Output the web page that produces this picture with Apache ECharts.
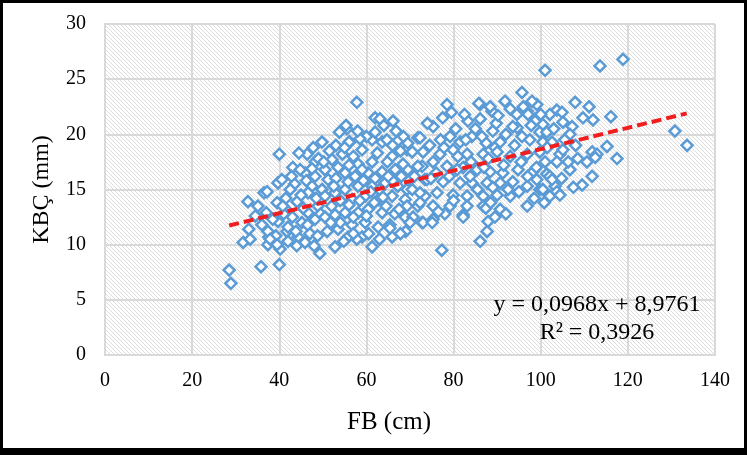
<!DOCTYPE html>
<html>
<head>
<meta charset="utf-8">
<script src="https://cdn.jsdelivr.net/npm/echarts@6/dist/echarts.min.js"></script>
<style>
  html, body { margin: 0; padding: 0; background: #fff; }
  #chart { width: 747px; height: 455px; }
</style>
</head>
<body>
<div id="chart"></div>
<script>
// Observations [FB (cm), KBÇ (mm)], grouped by FB range
const fbUnder50 = [
  [28.5,7.7],[28.9,6.5],[31.7,10.2],[33.0,11.4],[32.8,13.9],[35.1,13.5],[35.8,8.0],[36.5,14.7],
  [37.0,12.9],[37.6,10.7],[37.4,10.0],[40.0,18.2],[39.7,15.6],[40.6,15.9],[40.0,8.2],[40.2,9.6],
  [39.2,10.8],[41.8,11.2],[43.1,17.0],[37.2,14.8],[39.5,13.8],[42.0,13.0],[44.1,13.9],[45.9,16.5],
  [46.4,18.2],[48.2,17.5],[49.8,19.3],[47.5,15.3],[48.9,13.5],[46.6,12.9],[45.2,12.0],[42.0,11.6],
  [39.7,12.1],[37.4,11.2],[37.9,10.5],[33.3,10.5],[39.5,10.0],[42.0,10.3],[44.3,10.7],[45.9,10.2],
  [49.3,9.2],[48.2,12.3],[46.6,14.7],[48.2,16.2],[49.8,15.0],[43.5,15.5],[44.8,16.8],[41.5,14.2],
  [43.0,12.5],[45.5,13.3],[47.0,11.0],[44.0,9.9],[46.5,11.8],[48.5,14.2],[47.5,16.9],[42.5,15.0],
  [41.0,12.8],[38.5,12.3],[36.0,11.8],[34.5,12.6],[46.2,15.8],[48.8,10.8],[43.8,11.2],[45.0,14.5],
  [49.0,17.8],[47.8,18.8],[44.5,18.3],[42.8,16.2],[40.8,13.5],[49.5,12.8],[48.0,9.9]
];
const fb50to70 = [
  [52.1,17.7],[53.5,17.0],[56.2,19.3],[55.5,20.5],[59.0,18.6],[61.3,19.5],[63.6,19.3],[67.2,19.4],
  [65.9,18.0],[61.3,17.5],[58.1,17.3],[55.1,16.5],[51.2,15.9],[50.5,14.4],[52.8,9.8],[61.3,9.8],
  [59.0,10.7],[55.8,10.7],[53.5,11.4],[56.7,11.8],[59.7,12.0],[62.7,11.6],[65.9,10.7],[65.4,11.8],
  [68.9,12.5],[63.6,12.9],[60.4,13.2],[58.1,12.9],[55.1,12.9],[52.8,12.7],[50.5,12.5],[56.7,14.1],
  [59.7,14.4],[62.7,14.1],[65.9,14.4],[68.9,14.1],[67.2,15.3],[64.3,15.6],[61.3,15.3],[58.1,15.3],
  [55.1,15.0],[52.8,14.7],[50.5,16.8],[57.4,16.2],[60.4,16.5],[63.6,16.6],[66.6,16.8],[69.5,16.8],
  [57.8,22.9],[55.3,20.8],[62.0,21.5],[56.0,19.3],[66.1,21.2],[63.1,21.4],[64.7,19.5],[57.8,10.5],
  [65.4,11.5],[69.3,18.6],[68.4,17.3],[69.3,15.0],[69.3,13.5],[51.5,18.5],[53.0,19.0],[54.5,18.2],
  [57.0,18.0],[60.0,19.8],[62.5,18.3],[64.8,17.5],[67.8,18.5],[52.0,13.5],[54.0,14.0],[56.0,13.6],
  [58.5,14.0],[61.0,14.8],[63.0,15.0],[66.0,15.8],[68.0,16.2],[51.0,11.2],[54.0,12.0],[57.0,11.0],
  [60.5,11.0],[63.0,10.5],[66.5,12.8],[69.0,11.2],[53.0,16.0],[56.0,17.2],[59.0,16.8],[62.0,16.0],
  [65.0,16.2],[68.5,19.8],[55.0,18.8],[58.5,19.6],[62.0,20.2],[64.0,20.8],[66.8,20.3],[50.2,17.5],
  [52.5,15.3],[55.8,15.7],[59.3,15.8],[61.8,13.8],[64.5,13.5],[67.5,13.2],[51.8,12.0],[54.8,10.3],
  [60.0,12.6],[67.8,11.0],[69.5,19.2],[53.8,20.2],[58.0,20.3],[57.0,12.5],[63.8,14.3],[66.0,19.0]
];
const fb70to90 = [
  [71.8,19.7],[70.5,18.4],[72.8,17.1],[73.4,15.9],[73.4,14.4],[71.8,13.5],[70.5,15.0],[72.8,12.0],
  [78.5,22.7],[86.1,22.7],[88.8,22.1],[83.3,21.2],[86.1,21.4],[75.3,20.7],[72.3,19.7],[79.2,19.8],
  [81.5,19.3],[84.2,19.8],[89.0,20.3],[73.0,18.4],[76.9,18.2],[79.9,18.6],[83.1,18.2],[86.8,18.2],
  [71.8,17.1],[75.3,17.5],[78.5,17.1],[82.2,17.0],[85.4,16.8],[88.4,16.6],[70.0,15.9],[73.9,15.9],
  [77.6,15.7],[81.5,15.6],[84.2,15.6],[87.7,15.6],[72.3,14.7],[76.2,14.7],[79.9,14.5],[83.1,14.4],
  [86.8,14.4],[72.3,13.8],[75.3,13.5],[79.2,13.5],[82.2,12.7],[83.1,13.5],[86.8,13.5],[70.7,12.5],
  [73.0,12.0],[75.3,12.3],[87.7,11.2],[87.9,12.1],[70.0,12.0],[77.3,9.5],[86.1,10.3],[75.1,12.0],
  [82.2,12.5],[87.4,13.3],[85.8,22.8],[88.4,22.5],[74.5,19.0],[77.0,19.5],[80.5,20.5],[82.5,21.8],
  [85.0,20.5],[87.5,19.2],[89.5,18.8],[76.0,16.5],[79.0,16.2],[81.0,18.0],[84.0,17.5],[88.0,17.8],
  [74.0,21.0],[77.5,21.5],[80.0,14.0],[85.5,15.0],[89.0,15.2],[88.5,13.8],[78.0,12.8],[89.5,12.5],
  [71.0,16.2],[74.8,16.0],[77.8,18.8],[82.8,19.5],[86.5,19.8],[89.8,21.0],[79.5,22.0],[76.5,13.0],
  [80.8,16.8],[83.8,16.2],[87.0,17.0]
];
const fbOver90 = [
  [91.8,23.0],[90.2,21.7],[95.7,23.8],[99.1,22.7],[96.9,22.1],[94.6,20.6],[93.6,20.7],[95.7,19.8],
  [98.7,21.4],[99.8,20.2],[100.5,19.3],[90.7,19.3],[90.0,18.4],[93.0,18.0],[96.9,18.2],[99.8,18.4],
  [91.3,16.5],[94.8,16.8],[98.2,16.6],[101.4,16.4],[90.7,15.6],[93.6,15.7],[96.9,15.3],[99.8,15.0],
  [90.0,14.5],[93.0,14.4],[90.7,13.2],[96.9,13.5],[101.0,25.8],[113.6,26.2],[118.9,26.8],[130.8,20.3],
  [133.6,19.0],[107.9,22.9],[111.1,22.5],[116.1,21.6],[109.7,21.5],[112.0,21.3],[103.7,22.2],[115.2,18.9],
  [117.5,17.8],[111.8,18.4],[104.9,22.0],[105.1,21.1],[107.2,20.7],[100.5,20.9],[98.7,21.2],[101.4,20.2],
  [102.6,19.3],[104.4,18.2],[103.7,17.5],[101.0,17.5],[102.1,16.2],[103.3,15.3],[100.5,15.0],[99.1,15.9],
  [112.9,18.2],[110.6,17.5],[111.8,16.2],[109.5,15.4],[106.7,16.8],[106.3,17.5],[102.1,14.4],[103.7,14.8],
  [105.1,18.6],[106.7,20.0],[102.1,21.8],[97.1,21.8],[104.4,14.5],[102.6,15.9],[112.5,17.9],[92.0,20.0],
  [94.0,19.0],[97.5,19.5],[91.5,17.2],[95.5,17.5],[97.0,16.2],[92.5,15.0],[95.0,14.8],[98.5,14.2],
  [92.0,12.8],[94.5,21.8],[97.8,20.8],[100.0,21.8],[98.0,23.0],[101.5,18.8],[103.0,20.5],[105.5,19.5],
  [108.0,19.0],[108.5,17.8],[104.8,16.0],[107.5,15.2],[100.8,13.8],[99.0,17.0],[96.0,22.5],[93.0,22.3]
];

// Linear trend as reported on the chart
const trendSlope = 0.0968;
const trendIntercept = 8.9761;
const trendRange = [28.5, 133.5];
const trendEquation = 'y = 0,0968x + 8,9761';
const trendR2 = 'R² = 0,3926';

const xTicks = { min: 0, max: 140, step: 20 };
const yTicks = { min: 0, max: 30, step: 5 };

const observations = [].concat(fbUnder50, fb50to70, fb70to90, fbOver90);
const trendPoints = trendRange.map(x => [x, trendSlope * x + trendIntercept]);

// Light diagonal hatch used behind the plot
function hatchTile() {
  const c = document.createElement('canvas');
  c.width = 4; c.height = 4;
  const g = c.getContext('2d');
  g.fillStyle = '#ffffff';
  g.fillRect(0, 0, 4, 4);
  g.fillStyle = '#dcdcdc';
  for (let i = 0; i < 4; i++) g.fillRect(i, i, 1, 1);
  return c;
}

const serif = '"Liberation Serif", "Times New Roman", serif';
const gridColor = '#d9d9d9';

const chart = echarts.init(document.getElementById('chart'), null, { renderer: 'canvas' });
chart.setOption({
  animation: false,
  backgroundColor: '#ffffff',
  grid: {
    left: 105, right: 32, top: 24, bottom: 100,
    show: true,
    backgroundColor: { image: hatchTile(), repeat: 'repeat' },
    borderWidth: 0
  },
  xAxis: {
    type: 'value',
    min: xTicks.min, max: xTicks.max, interval: xTicks.step,
    axisLine: { show: true, lineStyle: { color: gridColor, width: 2 } },
    axisTick: { show: false },
    axisLabel: { fontFamily: serif, fontSize: 20, color: '#000', margin: 16 },
    splitLine: { show: true, lineStyle: { color: gridColor, width: 2 } }
  },
  yAxis: {
    type: 'value',
    min: yTicks.min, max: yTicks.max, interval: yTicks.step,
    name: 'KBÇ (mm)',
    nameLocation: 'middle',
    nameGap: 51,
    nameTextStyle: { fontFamily: serif, fontSize: 24, color: '#000' },
    axisLine: { show: true, lineStyle: { color: gridColor, width: 2 } },
    axisTick: { show: false },
    axisLabel: { fontFamily: serif, fontSize: 20, color: '#000', margin: 19 },
    splitLine: { show: true, lineStyle: { color: gridColor, width: 2 } }
  },
  series: [
    {
      type: 'scatter',
      data: observations,
      symbol: 'diamond',
      symbolSize: 11,
      itemStyle: { color: '#ffffff', borderColor: '#5b9bd5', borderWidth: 2.5, opacity: 1 },
      z: 2
    },
    {
      type: 'line',
      data: trendPoints,
      showSymbol: false,
      symbol: 'none',
      lineStyle: { color: '#f01e1e', width: 4, type: [10, 5] },
      z: 3
    }
  ],
  graphic: [
    // x-axis title
    { type: 'text', x: 389, y: 422, z: 10,
      style: { text: 'FB (cm)', font: '25px ' + serif, fill: '#000', align: 'center', verticalAlign: 'middle' } },
    // trendline equation
    { type: 'text', x: 597, y: 305, z: 10,
      style: { text: trendEquation, font: '24px ' + serif, fill: '#000', align: 'center', verticalAlign: 'middle' } },
    { type: 'text', x: 597, y: 333, z: 10,
      style: { text: trendR2, font: '24px ' + serif, fill: '#000', align: 'center', verticalAlign: 'middle' } },
    // outer frame
    { type: 'rect', left: 0, top: 0, z: 20, shape: { width: 747, height: 3 }, style: { fill: '#000' } },
    { type: 'rect', left: 0, top: 448, z: 20, shape: { width: 747, height: 7 }, style: { fill: '#000' } },
    { type: 'rect', left: 0, top: 0, z: 20, shape: { width: 3, height: 455 }, style: { fill: '#000' } },
    { type: 'rect', left: 744, top: 0, z: 20, shape: { width: 3, height: 455 }, style: { fill: '#000' } }
  ]
});
</script>
</body>
</html>
